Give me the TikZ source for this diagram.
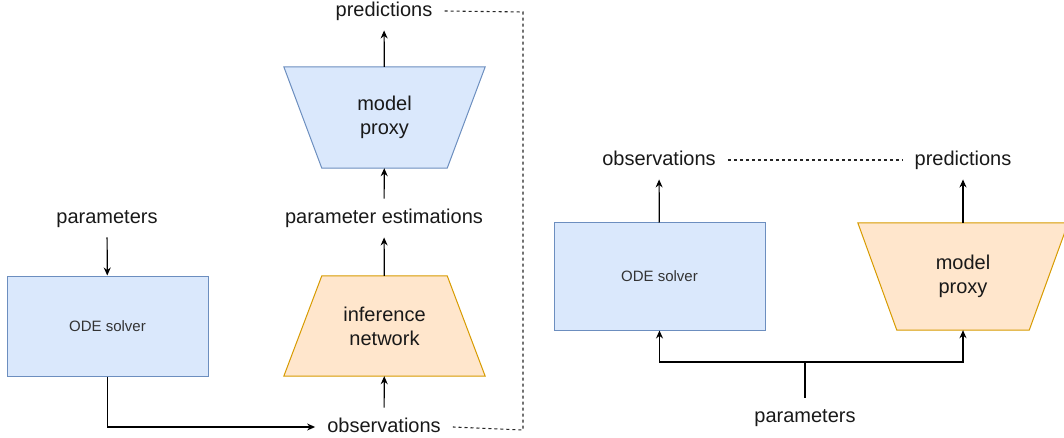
\documentclass[tikz,border=0pt]{standalone}
\usepackage{fontspec}
\setmainfont{Liberation Sans}
\usepackage{tikz}
\usetikzlibrary{shapes}
\usetikzlibrary{arrows.meta}
\usetikzlibrary{positioning}
\usetikzlibrary{calc}
\usetikzlibrary{backgrounds}
\definecolor{bleufond}{HTML}{DAE8FC}
\definecolor{bleubord}{HTML}{6C8EBF}
\definecolor{orangefond}{HTML}{FFE6CC}
\definecolor{orangebord}{HTML}{D79B00}
\tikzstyle{label}=[inner xsep=12pt,inner ysep=10pt,text height=14.5pt,text depth=4pt,
        text=black!90,font=\fontsize{20}{24}\selectfont]
\tikzstyle{solver}=[rectangle,draw=bleubord,fill=bleufond,line width=1pt,
        font=\fontsize{15}{18}\selectfont,text=black!80]
\tikzstyle{reseau}=[rectangle,inner sep=0pt,align=center,text=black!90,
        font=\fontsize{20}{24}\selectfont]
\tikzstyle{bleu}=[draw=bleubord,fill=bleufond,line width=1pt]
\tikzstyle{orange}=[draw=orangebord,fill=orangefond,line width=1pt]
\tikzstyle{suite}=[-{Stealth[length=8pt,width=7pt]},line width=1.2pt]
\tikzstyle{lien}=[line width=1.2pt]
\tikzstyle{pointille}=[dash pattern=on 3pt off 3pt,line width=1.1pt,black!85]
% trapeze: noeud, decalage, style ; pointe en haut (etroit) ou en bas
\newcommand{\trapezehaut}[3]{%
  \begin{pgfonlayer}{background}
  \draw[#3] (#1.south west) -- (#1.south east)
     -- ($(#1.north east)+(-#2,0)$) -- ($(#1.north west)+(#2,0)$) -- cycle;
  \end{pgfonlayer}}
\newcommand{\trapezebas}[3]{%
  \begin{pgfonlayer}{background}
  \draw[#3] (#1.north west) -- (#1.north east)
     -- ($(#1.south east)+(-#2,0)$) -- ($(#1.south west)+(#2,0)$) -- cycle;
  \end{pgfonlayer}}

\begin{document}
\begin{tikzpicture}[x=1pt,y=-1pt]
\useasboundingbox (0,0) rectangle (1064,438);
% partie gauche
\node[label] (params) at (107,218) {parameters};
\node[solver,minimum width=201pt,minimum height=100pt] (solver) at (107.5,326) {ODE solver};
\node[label] (obs) at (384,427) {observations};
\node[reseau,minimum width=201pt,minimum height=100pt] (infer) at (384.5,326) {inference\\network};
\trapezehaut{infer}{38}{orange}
\node[label] (estim) at (384,218) {parameter estimations};
\node[reseau,minimum width=201pt,minimum height=101pt] (proxy) at (384.5,117.5) {model\\proxy};
\trapezebas{proxy}{38}{bleu}
\node[label] (pred) at (384,11) {predictions};
\coordinate (haut) at (523,12);
\coordinate (bas) at (523,430);
%fleches
\draw[suite] (params) -- (solver);
\draw[suite] (solver) |- (obs);
\draw[suite] (obs) -- (infer);
\draw[suite] (infer) -- (estim);
\draw[suite] (estim) -- (proxy);
\draw[suite] (proxy) -- (pred);
\draw[pointille] (pred.east) -- (haut) -- (bas) -- (obs.east);

% partie droite
\node[label] (obs2) at (659,160) {observations};
\node[label] (pred2) at (963,160) {predictions};
\node[solver,minimum width=211pt,minimum height=107pt] (solver2) at (659.5,276.5) {ODE solver};
\node[reseau,minimum width=210pt,minimum height=107pt] (proxy2) at (963,276.5) {model\\proxy};
\trapezebas{proxy2}{39}{orange}
\node[label] (params2) at (805,417) {parameters};
\coordinate (split) at (805,362);
%fleches
\draw[suite] (solver2) -- (obs2);
\draw[suite] (proxy2) -- (pred2);
\draw[pointille] (obs2.east) -- (pred2.west);
\draw[lien] (params2) -- (split);
\draw[suite] (split) -| (solver2);
\draw[suite] (split) -| (proxy2);
\end{tikzpicture}
\end{document}
